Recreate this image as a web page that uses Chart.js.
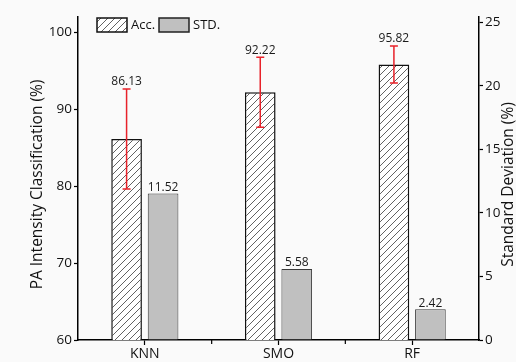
<!DOCTYPE html>
<html>
<head>
<meta charset="utf-8">
<script src="https://cdn.jsdelivr.net/npm/chart.js@4.4.1/dist/chart.umd.min.js"></script>
<style>
html,body{margin:0;padding:0;background:#fafafa;}
#wrap{width:516px;height:362px;}
</style>
</head>
<body>
<div id="wrap"><canvas id="c" width="516" height="362"></canvas></div>
<script>
const categories = ['KNN', 'SMO', 'RF'];
const accuracy = [86.13, 92.22, 95.82];
const accError = [6.5, 4.55, 2.4];
const stdDev = [11.52, 5.58, 2.42];
const leftTicks = [60, 70, 80, 90, 100];
const rightTicks = [0, 5, 10, 15, 20, 25];
const leftTitle = 'PA Intensity Classification (%)';
const rightTitle = 'Standard Deviation (%)';

const FONT = "'Open Sans', 'Noto Sans', sans-serif";

function hatch() {
  const s = 7;
  const c = document.createElement('canvas');
  c.width = s; c.height = s;
  const g = c.getContext('2d');
  g.fillStyle = '#ffffff';
  g.fillRect(0, 0, s, s);
  g.strokeStyle = '#3a3a3a';
  g.lineWidth = 0.8;
  g.beginPath();
  g.moveTo(-1, s + 1); g.lineTo(s + 1, -1);
  g.moveTo(-1, 1); g.lineTo(1, -1);
  g.moveTo(s - 1, s + 1); g.lineTo(s + 1, s - 1);
  g.stroke();
  return g.createPattern(c, 'repeat');
}
const hatchPattern = hatch();

const bgPlugin = {
  id: 'bg',
  beforeDraw(chart) {
    const ctx = chart.ctx;
    ctx.save();
    ctx.fillStyle = '#fafafa';
    ctx.fillRect(0, 0, chart.width, chart.height);
    ctx.restore();
  }
};

const extras = {
  id: 'extras',
  afterDatasetsDraw(chart) {
    const ctx = chart.ctx;
    const y = chart.scales.y, y1 = chart.scales.y1, x = chart.scales.x;
    const m0 = chart.getDatasetMeta(0), m1 = chart.getDatasetMeta(1);
    const ca = chart.chartArea;
    ctx.save();
    // error bars
    ctx.strokeStyle = '#e8222a';
    ctx.lineWidth = 1.5;
    accuracy.forEach((v, i) => {
      const bx = m0.data[i].x;
      const top = y.getPixelForValue(v + accError[i]);
      const bot = y.getPixelForValue(v - accError[i]);
      ctx.beginPath();
      ctx.moveTo(bx, top); ctx.lineTo(bx, bot);
      ctx.moveTo(bx - 4, top); ctx.lineTo(bx + 4, top);
      ctx.moveTo(bx - 4, bot); ctx.lineTo(bx + 4, bot);
      ctx.stroke();
    });
    // value labels
    ctx.fillStyle = '#1a1a1a';
    ctx.font = '12px ' + FONT;
    ctx.textAlign = 'center';
    ctx.textBaseline = 'bottom';
    accuracy.forEach((v, i) => {
      const bx = m0.data[i].x;
      const top = y.getPixelForValue(v + accError[i]);
      ctx.fillText(v.toFixed(2), bx, top - 1);
    });
    stdDev.forEach((v, i) => {
      const bx = m1.data[i].x;
      ctx.fillText(v.toFixed(2), bx, y1.getPixelForValue(v) - 0);
    });
    // minor x ticks between categories
    ctx.strokeStyle = '#000';
    ctx.lineWidth = 1.2;
    for (let i = 0; i < categories.length - 1; i++) {
      const px = (x.getPixelForValue(i) + x.getPixelForValue(i + 1)) / 2;
      ctx.beginPath();
      ctx.moveTo(px, x.top); ctx.lineTo(px, x.top + 4);
      ctx.stroke();
    }
    // legend
    ctx.lineWidth = 1.5;
    ctx.fillStyle = hatchPattern;
    ctx.fillRect(97, 18, 30, 14);
    ctx.strokeStyle = '#111';
    ctx.strokeRect(97, 18, 30, 14);
    ctx.fillStyle = '#c0c0c0';
    ctx.fillRect(159, 18, 30, 14);
    ctx.strokeStyle = '#222';
    ctx.strokeRect(159, 18, 30, 14);
    ctx.fillStyle = '#111';
    ctx.font = '13px ' + FONT;
    ctx.textAlign = 'left';
    ctx.textBaseline = 'middle';
    ctx.fillText('Acc.', 131, 25);
    ctx.fillText('STD.', 193, 25);
    // axis titles (both read bottom-to-top)
    ctx.font = '15.5px ' + FONT;
    ctx.textAlign = 'center';
    ctx.textBaseline = 'middle';
    const midY = (ca.top + ca.bottom) / 2 + 6;
    ctx.save();
    ctx.translate(38, midY);
    ctx.rotate(-Math.PI / 2);
    ctx.fillText(leftTitle, 0, 0);
    ctx.restore();
    ctx.save();
    ctx.translate(509, midY);
    ctx.rotate(-Math.PI / 2);
    ctx.fillText(rightTitle, 0, 0);
    ctx.restore();
    ctx.restore();
  }
};

new Chart(document.getElementById('c'), {
  type: 'bar',
  data: {
    labels: categories,
    datasets: [
      {
        label: 'Acc.',
        data: accuracy,
        yAxisID: 'y',
        backgroundColor: hatchPattern,
        borderColor: '#111111',
        borderWidth: 1.5,
        borderSkipped: 'bottom',
        categoryPercentage: 0.546,
        barPercentage: 0.84
      },
      {
        label: 'STD.',
        data: stdDev,
        yAxisID: 'y1',
        backgroundColor: '#c0c0c0',
        borderColor: '#3a3a3a',
        borderWidth: 1,
        borderSkipped: 'bottom',
        categoryPercentage: 0.546,
        barPercentage: 0.84
      }
    ]
  },
  options: {
    responsive: false,
    animation: false,
    devicePixelRatio: 1,
    layout: { padding: { top: 17, left: 0, right: 0, bottom: 0 } },
    plugins: {
      legend: { display: false },
      tooltip: { enabled: false }
    },
    scales: {
      x: {
        offset: true,
        grid: { offset: false, drawOnChartArea: false, drawTicks: true, tickLength: 5, tickColor: '#000', tickWidth: 1.2 },
        border: { display: true, color: '#000', width: 1.5 },
        ticks: { color: '#111', font: { family: FONT, size: 14 }, padding: 1 },
        afterFit(s) { s.height = 22; }
      },
      y: {
        position: 'left',
        min: 60, max: 102,
        ticks: { stepSize: 10, color: '#111', font: { family: FONT, size: 13.5 }, padding: 2 },
        afterBuildTicks(s) { s.ticks = leftTicks.map(v => ({ value: v })); },
        grid: { drawOnChartArea: false, drawTicks: true, tickLength: 4, tickColor: '#000', tickWidth: 1.2 },
        border: { display: true, color: '#000', width: 1.5 },
        afterFit(s) { s.width = 78; }
      },
      y1: {
        position: 'right',
        min: 0, max: 25.4,
        ticks: { stepSize: 5, color: '#111', font: { family: FONT, size: 13.5 }, padding: 2 },
        afterBuildTicks(s) { s.ticks = rightTicks.map(v => ({ value: v })); },
        grid: { drawOnChartArea: false, drawTicks: true, tickLength: 4, tickColor: '#000', tickWidth: 1.2 },
        border: { display: true, color: '#000', width: 1.5 },
        afterFit(s) { s.width = 37; }
      }
    }
  },
  plugins: [bgPlugin, extras]
});
</script>
</body>
</html>
